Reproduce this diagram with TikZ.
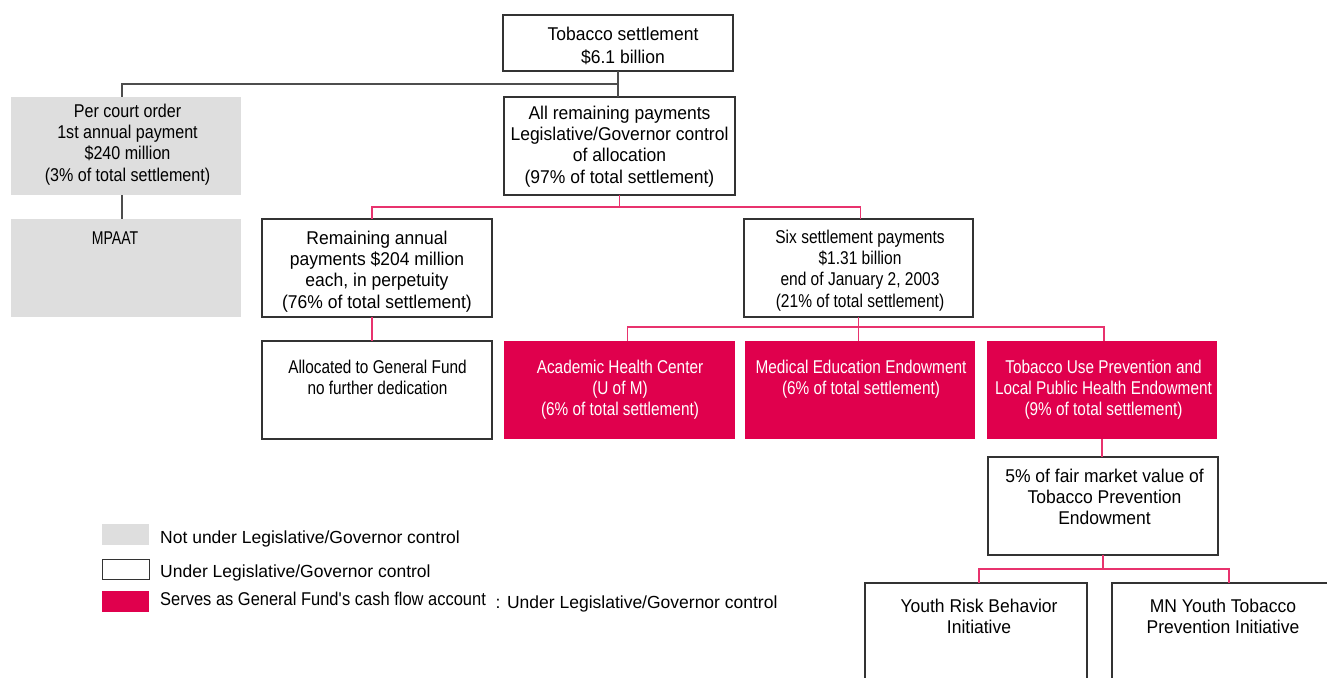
\documentclass[tikz,border=0pt]{standalone}
\usepackage{fontspec}
\setmainfont{Liberation Sans}
\definecolor{pinkf}{HTML}{E0004D}
\definecolor{pinkl}{HTML}{E8336E}
\definecolor{grayf}{HTML}{DEDEDE}
\definecolor{bord}{HTML}{333333}
\definecolor{conn}{HTML}{4D4D4D}
\newcommand\mystrut{\rule{0pt}{15pt}}
\tikzset{
 boxbase/.style={rectangle, inner sep=0, outer sep=0, anchor=north west},
 gbox/.style={boxbase, fill=grayf},
 wbox/.style={boxbase, fill=white, draw=bord, line width=1.3pt},
 pbox/.style={boxbase, fill=pinkf},
 fstretch/.style={font=\fontsize{18.5}{21.3}\selectfont\addfontfeature{FakeStretch=#1}},
 txt/.style={anchor=north, inner sep=0, align=center, fstretch=0.946, text=black},
 wtxt/.style={txt, text=white, fstretch=0.83},
 ltxt/.style={anchor=base west, inner sep=0, font=\fontsize{17.5}{21.3}\selectfont, text=black},
 gline/.style={draw=conn, line width=1.2pt},
 pline/.style={draw=pinkl, line width=1.2pt},
}
\begin{document}
\begin{tikzpicture}[x=1pt,y=-1pt]
\useasboundingbox (0,0) rectangle (1327,677);
\clip (0,0) rectangle (1327,677);
\fill[white] (0,0) rectangle (1327,677);

% boxes
\node[wbox, minimum width=230, minimum height=56] (top) at (503,15) {};
\node[gbox, minimum width=230, minimum height=98] (court) at (11,97) {};
\node[gbox, minimum width=230, minimum height=98] (mpaat) at (11,219) {};
\node[wbox, minimum width=231, minimum height=98] (allrem) at (504,97) {};
\node[wbox, minimum width=230, minimum height=98] (remain) at (262,219) {};
\node[wbox, minimum width=229, minimum height=98] (six) at (744,219) {};
\node[wbox, minimum width=230, minimum height=98] (alloc) at (262,341) {};
\node[pbox, minimum width=231, minimum height=98] (acad) at (504,341) {};
\node[pbox, minimum width=230, minimum height=98] (med) at (745,341) {};
\node[pbox, minimum width=230, minimum height=98] (tup) at (987,341) {};
\node[wbox, minimum width=230, minimum height=98] (fmv) at (988,457) {};
\node[wbox, minimum width=222, minimum height=130] (youth) at (865,583) {};
\node[wbox, minimum width=240, minimum height=130] (mn) at (1112,583) {};

% texts
\node[txt] (topT) at (623,25) {\mystrut Tobacco settlement\\[1.7pt]\$6.1 billion};
\node[txt, fstretch=0.87] (courtT) at (127.5,102) {\mystrut Per court order\\1st annual payment\\\$240 million\\(3\% of total settlement)};
\node[txt, fstretch=0.76] (mpaatT) at (115,229) {\mystrut MPAAT};
\node[txt] (allremT) at (619.5,104) {\mystrut All remaining payments\\Legislative/Governor control\\of allocation\\(97\% of total settlement)};
\node[txt] (remainT) at (377,229) {\mystrut Remaining annual\\payments \$204 million\\each, in perpetuity\\(76\% of total settlement)};
\node[txt, fstretch=0.84] (sixT) at (860,228) {\mystrut Six settlement payments\\\$1.31 billion\\end of January 2, 2003\\(21\% of total settlement)};
\node[txt, fstretch=0.83] (allocT) at (377.5,358) {\mystrut Allocated to General Fund\\no further dedication};
\node[wtxt] (acadT) at (620,358) {\mystrut Academic Health Center\\(U of M)\\(6\% of total settlement)};
\node[wtxt] (medT) at (861,358) {\mystrut Medical Education Endowment\\(6\% of total settlement)};
\node[wtxt] (tupT) at (1103.5,358) {\mystrut Tobacco Use Prevention and\\Local Public Health Endowment\\(9\% of total settlement)};
\node[txt] (fmvT) at (1104.5,467) {\mystrut 5\% of fair market value of\\Tobacco Prevention\\Endowment};
\node[txt] (youthT) at (979,597) {\mystrut Youth Risk Behavior\\Initiative};
\node[txt] (mnT) at (1223,597) {\mystrut MN Youth Tobacco\\Prevention Initiative};

% connectors
\draw[gline] (top.south) -- (top.south |- 0,84) -| ([xshift=-4]court.north);
\draw[gline] (top.south |- 0,84) -- (top.south |- allrem.north);
\draw[gline] ([xshift=-4]court.south) -- ([xshift=-4]mpaat.north);
\draw[pline] (allrem.south) -- (allrem.south |- 0,207) -| ([xshift=-5]remain.north);
\draw[pline] (allrem.south |- 0,207) -| ([xshift=2]six.north);
\draw[pline] ([xshift=-5]remain.south) -- ([xshift=-5]alloc.north);
\draw[pline] (six.south) -- (six.south |- 0,327) -| ([xshift=8]acad.north);
\draw[pline] (six.south |- 0,327) -| ([xshift=2]tup.north);
\draw[pline] (six.south |- 0,327) -- (six.south |- med.north);
\draw[pline] (tup.south) -- (tup.south |- fmv.north);
\draw[pline] (fmv.south) -- (fmv.south |- 0,569) -| ([xshift=3]youth.north);
\draw[pline] (fmv.south |- 0,569) -| ([xshift=-3]mn.north);

% legend
\node[gbox, minimum width=47, minimum height=21] (lg1) at (102,524) {};
\node[wbox, line width=1pt, minimum width=47, minimum height=20] (lg2) at (102,559) {};
\node[pbox, minimum width=47, minimum height=21] (lg3) at (102,591) {};
\node[ltxt] (lt1) at (160,543) {Not under Legislative/Governor control};
\node[ltxt] (lt2) at (160,577) {Under Legislative/Governor control};
\node[ltxt, font=\fontsize{18.5}{21.3}\selectfont\addfontfeature{FakeStretch=0.89}] (lt3) at (160,605) {Serves as General Fund\textquotesingle s cash flow account};
\node[ltxt] (lt4) at (495.5,608) {: Under Legislative/Governor control};
\end{tikzpicture}
\end{document}
